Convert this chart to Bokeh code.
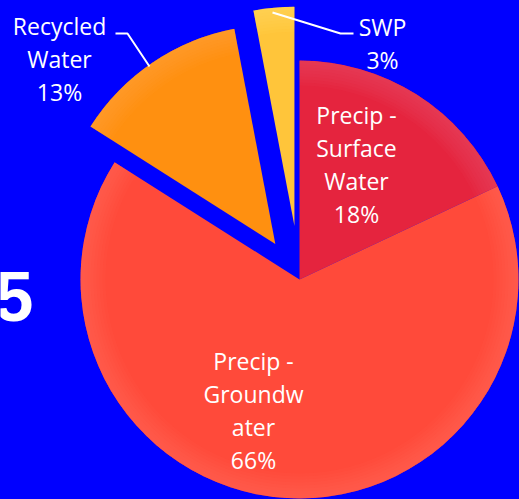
import numpy as np
from bokeh.plotting import figure
from bokeh.models import Range1d
from bokeh.core.properties import value
from bokeh.embed import file_html
from bokeh.resources import INLINE

# ---- data ----
categories = ["Precip - Surface Water", "Precip - Groundwater", "Recycled Water", "SWP"]
values = [18, 66, 13, 3]
label_lines = [["Precip -", "Surface", "Water"],
               ["Precip -", "Groundw", "ater"],
               ["Recycled", "Water"],
               ["SWP"]]

# ---- style / layout ----
BG = "#0000FF"
base_colors = ["#E5243E", "#FF4A3A", "#FF9010", "#FFC53A"]
rim_colors = ["#F25A72", "#FF7868", "#FFAA40", "#FFDC78"]
explode = [0, 0, 43, 54]
W, H = 519, 499
cx, cy, R = 299, H - 279, 219
label_pos = [(356, H - 164), (253, H - 410), (59, H - 58), (382, H - 43)]
line_gap = 33

p = figure(width=W, height=H, output_backend="svg", toolbar_location=None,
           x_range=Range1d(0, W), y_range=Range1d(0, H), min_border=0,
           background_fill_color=BG, border_fill_color=BG, outline_line_color=None)
p.axis.visible = False
p.grid.visible = False

vals = np.array(values, dtype=float)
frac = vals / vals.sum()
end_cw = np.cumsum(frac)
start_cw = end_cw - frac
mid_cw = (start_cw + end_cw) / 2

for i in range(len(values)):
    a0 = np.pi / 2 - start_cw[i] * 2 * np.pi
    a1 = np.pi / 2 - end_cw[i] * 2 * np.pi
    am = np.pi / 2 - mid_cw[i] * 2 * np.pi
    x0 = cx + explode[i] * np.cos(am)
    y0 = cy + explode[i] * np.sin(am)
    p.wedge(x=[x0], y=[y0], radius=R, start_angle=a0, end_angle=a1,
            direction="clock", fill_color=base_colors[i], line_color=None)
    # soft lighter rim toward the edge (stacked thin bands -> smooth gradient)
    for k in range(8):
        p.annular_wedge(x=[x0], y=[y0], inner_radius=R - 4 - 3 * k, outer_radius=R,
                        start_angle=a0, end_angle=a1, direction="clock",
                        fill_color=rim_colors[i], fill_alpha=0.07, line_color=None)

# labels
for i in range(len(values)):
    lines = label_lines[i] + [f"{values[i]}%"]
    n = len(lines)
    lx, ly = label_pos[i]
    xs = [lx] * n
    ys = [ly - (j - (n - 1) / 2) * line_gap for j in range(n)]
    p.text(x=xs, y=ys, text=lines, text_align="center", text_baseline="middle",
           text_color="white", text_font=value("Open Sans"), text_font_size="23px")

# leader lines
p.line(x=[115, 127, 149], y=[H - 33, H - 33, H - 66], line_color="white", line_width=2)
p.line(x=[272, 340, 353], y=[H - 12, H - 33, H - 33], line_color="white", line_width=2)

# partial large numeral at left edge
p.text(x=[33], y=[H - 296], text=["5"], text_align="right", text_baseline="middle",
       text_color="white", text_font=value("Liberation Sans"), text_font_style="bold",
       text_font_size="70px")

html = file_html(p, INLINE, "chart")
html = html.replace("</head>", "<style>html,body{background:#0000FF;}</style></head>", 1)
open("out.html", "w").write(html)
